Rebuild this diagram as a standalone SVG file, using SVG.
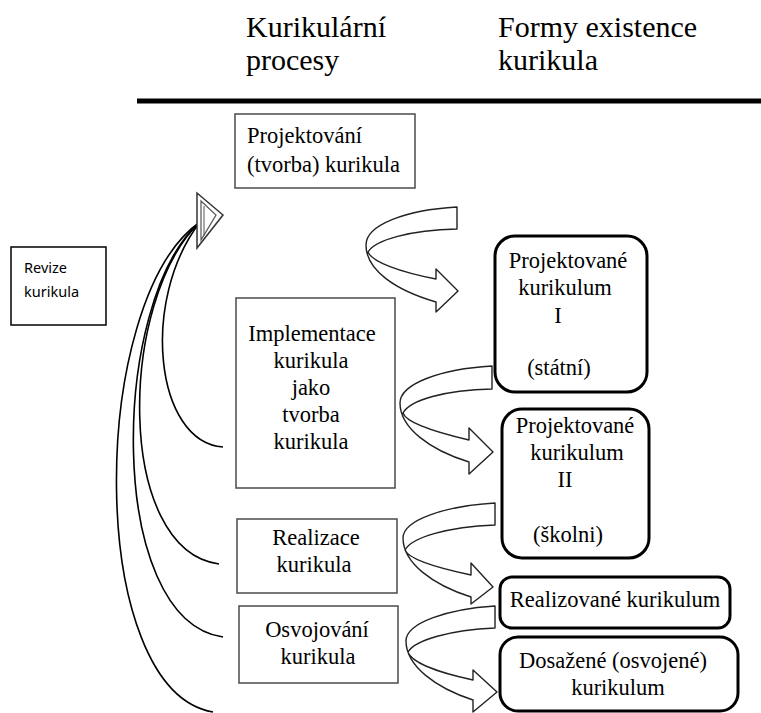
<svg xmlns="http://www.w3.org/2000/svg" width="761" height="713" viewBox="0 0 761 713">
<rect width="761" height="713" fill="#fff"/>
<g id="header">
<text x="246" y="37" font-size="30" font-family="Times New Roman">Kurikulární</text>
<text x="246" y="70" font-size="30" font-family="Times New Roman">procesy</text>
<text x="498" y="37" font-size="30" font-family="Times New Roman">Formy existence</text>
<text x="498" y="70" font-size="30" font-family="Times New Roman">kurikula</text>
<line x1="137" y1="101" x2="761" y2="101" stroke="#000" stroke-width="5"/>
</g>
<g id="connectors">
<g fill="none" stroke="#000" stroke-width="1.6">
<path d="M223,447 C155,442 140,300 200,222"/>
<path d="M219,564 C115,550 118,300 200,222"/>
<path d="M223,637 C105,620 110,300 200,222"/>
<path d="M213,712 C85,690 88,300 200,222"/>
</g>
<polygon points="197,193 223,215 197,248" fill="#fff" stroke="#333" stroke-width="1.5"/>
<polygon points="201,201 216,215 201,240" fill="none" stroke="#555" stroke-width="1.2"/>
<line x1="204" y1="206" x2="204" y2="236" stroke="#555" stroke-width="1"/>
<g fill="#fff" stroke="#222" stroke-width="1.4" stroke-linejoin="round">
<path d="M457,207 C405,210 366,225 366,245 C366,270 395,290 436,302 L436,312 L458,291 L436,269 L436,279 C400,272 372,262 368,252 C375,240 410,230 457,229 Z"/>
<path d="M492,366 C440,369 400,384 400,403 C400,428 430,450 469,462 L469,474 L493,452 L469,428 L469,440 C435,432 406,423 403,413 C410,400 445,390 492,389 Z"/>
<path d="M495,503 C445,506 403,520 403,538 C403,563 433,585 471,597 L471,604 L493,587 L471,563 L471,575 C438,568 409,560 405,550 C412,537 448,527 495,525 Z"/>
<path d="M495,606 C447,609 406,623 406,641 C406,666 436,688 473,700 L473,712 L497,692 L473,670 L473,680 C440,673 412,663 408,652 C415,640 450,630 495,628 Z"/>
</g>
</g>
<g id="revize">
<rect x="11" y="247" width="95" height="78" fill="#fff" stroke="#000" stroke-width="1.5"/>
<text x="24" y="273" font-size="14.5" font-family="Noto Sans">Revize</text>
<text x="24" y="297" font-size="14.5" font-family="Noto Sans">kurikula</text>
</g>
<g id="projektovani">
<rect x="235" y="114" width="180" height="74" fill="#fff" stroke="#555" stroke-width="1.6"/>
<text x="247" y="143" font-size="22.5" font-family="Times New Roman">Projektování</text>
<text x="247" y="172" font-size="22.5" font-family="Times New Roman">(tvorba) kurikula</text>
</g>
<g id="implementace">
<rect x="236" y="298" width="159" height="190" fill="#fff" stroke="#555" stroke-width="1.6"/>
<text x="312" y="341" font-size="22.5" font-family="Times New Roman" text-anchor="middle">Implementace</text>
<text x="311" y="368" font-size="22.5" font-family="Times New Roman" text-anchor="middle">kurikula</text>
<text x="311" y="395" font-size="22.5" font-family="Times New Roman" text-anchor="middle">jako</text>
<text x="311" y="422" font-size="22.5" font-family="Times New Roman" text-anchor="middle">tvorba</text>
<text x="311" y="449" font-size="22.5" font-family="Times New Roman" text-anchor="middle">kurikula</text>
</g>
<g id="realizace">
<rect x="237" y="519" width="160" height="74" fill="#fff" stroke="#555" stroke-width="1.6"/>
<text x="316" y="545" font-size="22.5" font-family="Times New Roman" text-anchor="middle">Realizace</text>
<text x="314" y="572" font-size="22.5" font-family="Times New Roman" text-anchor="middle">kurikula</text>
</g>
<g id="osvojovani">
<rect x="239" y="606" width="159" height="77" fill="#fff" stroke="#555" stroke-width="1.6"/>
<text x="317" y="637" font-size="22.5" font-family="Times New Roman" text-anchor="middle">Osvojování</text>
<text x="318" y="664" font-size="22.5" font-family="Times New Roman" text-anchor="middle">kurikula</text>
</g>
<g id="projektovane1">
<rect x="495" y="236" width="152" height="156" rx="20" fill="#fff" stroke="#000" stroke-width="3"/>
<text x="568" y="268" font-size="22.5" font-family="Times New Roman" text-anchor="middle">Projektované</text>
<text x="565" y="295" font-size="22.5" font-family="Times New Roman" text-anchor="middle">kurikulum</text>
<text x="558" y="323" font-size="22.5" font-family="Times New Roman" text-anchor="middle">I</text>
<text x="559" y="375" font-size="22.5" font-family="Times New Roman" text-anchor="middle">(státní)</text>
</g>
<g id="projektovane2">
<rect x="502" y="409" width="147" height="149" rx="20" fill="#fff" stroke="#000" stroke-width="3"/>
<text x="575" y="433" font-size="22.5" font-family="Times New Roman" text-anchor="middle">Projektované</text>
<text x="577" y="460" font-size="22.5" font-family="Times New Roman" text-anchor="middle">kurikulum</text>
<text x="565" y="487" font-size="22.5" font-family="Times New Roman" text-anchor="middle">II</text>
<text x="568" y="542" font-size="22.5" font-family="Times New Roman" text-anchor="middle">(školni)</text>
</g>
<g id="realizovane">
<rect x="500" y="577" width="230" height="51" rx="12" fill="#fff" stroke="#000" stroke-width="3"/>
<text x="615" y="607" font-size="22.5" font-family="Times New Roman" text-anchor="middle">Realizované kurikulum</text>
</g>
<g id="dosazene">
<rect x="500" y="637" width="238" height="74" rx="18" fill="#fff" stroke="#000" stroke-width="3"/>
<text x="613" y="668" font-size="22.5" font-family="Times New Roman" text-anchor="middle">Dosažené (osvojené)</text>
<text x="618" y="695" font-size="22.5" font-family="Times New Roman" text-anchor="middle">kurikulum</text>
</g>
</svg>
